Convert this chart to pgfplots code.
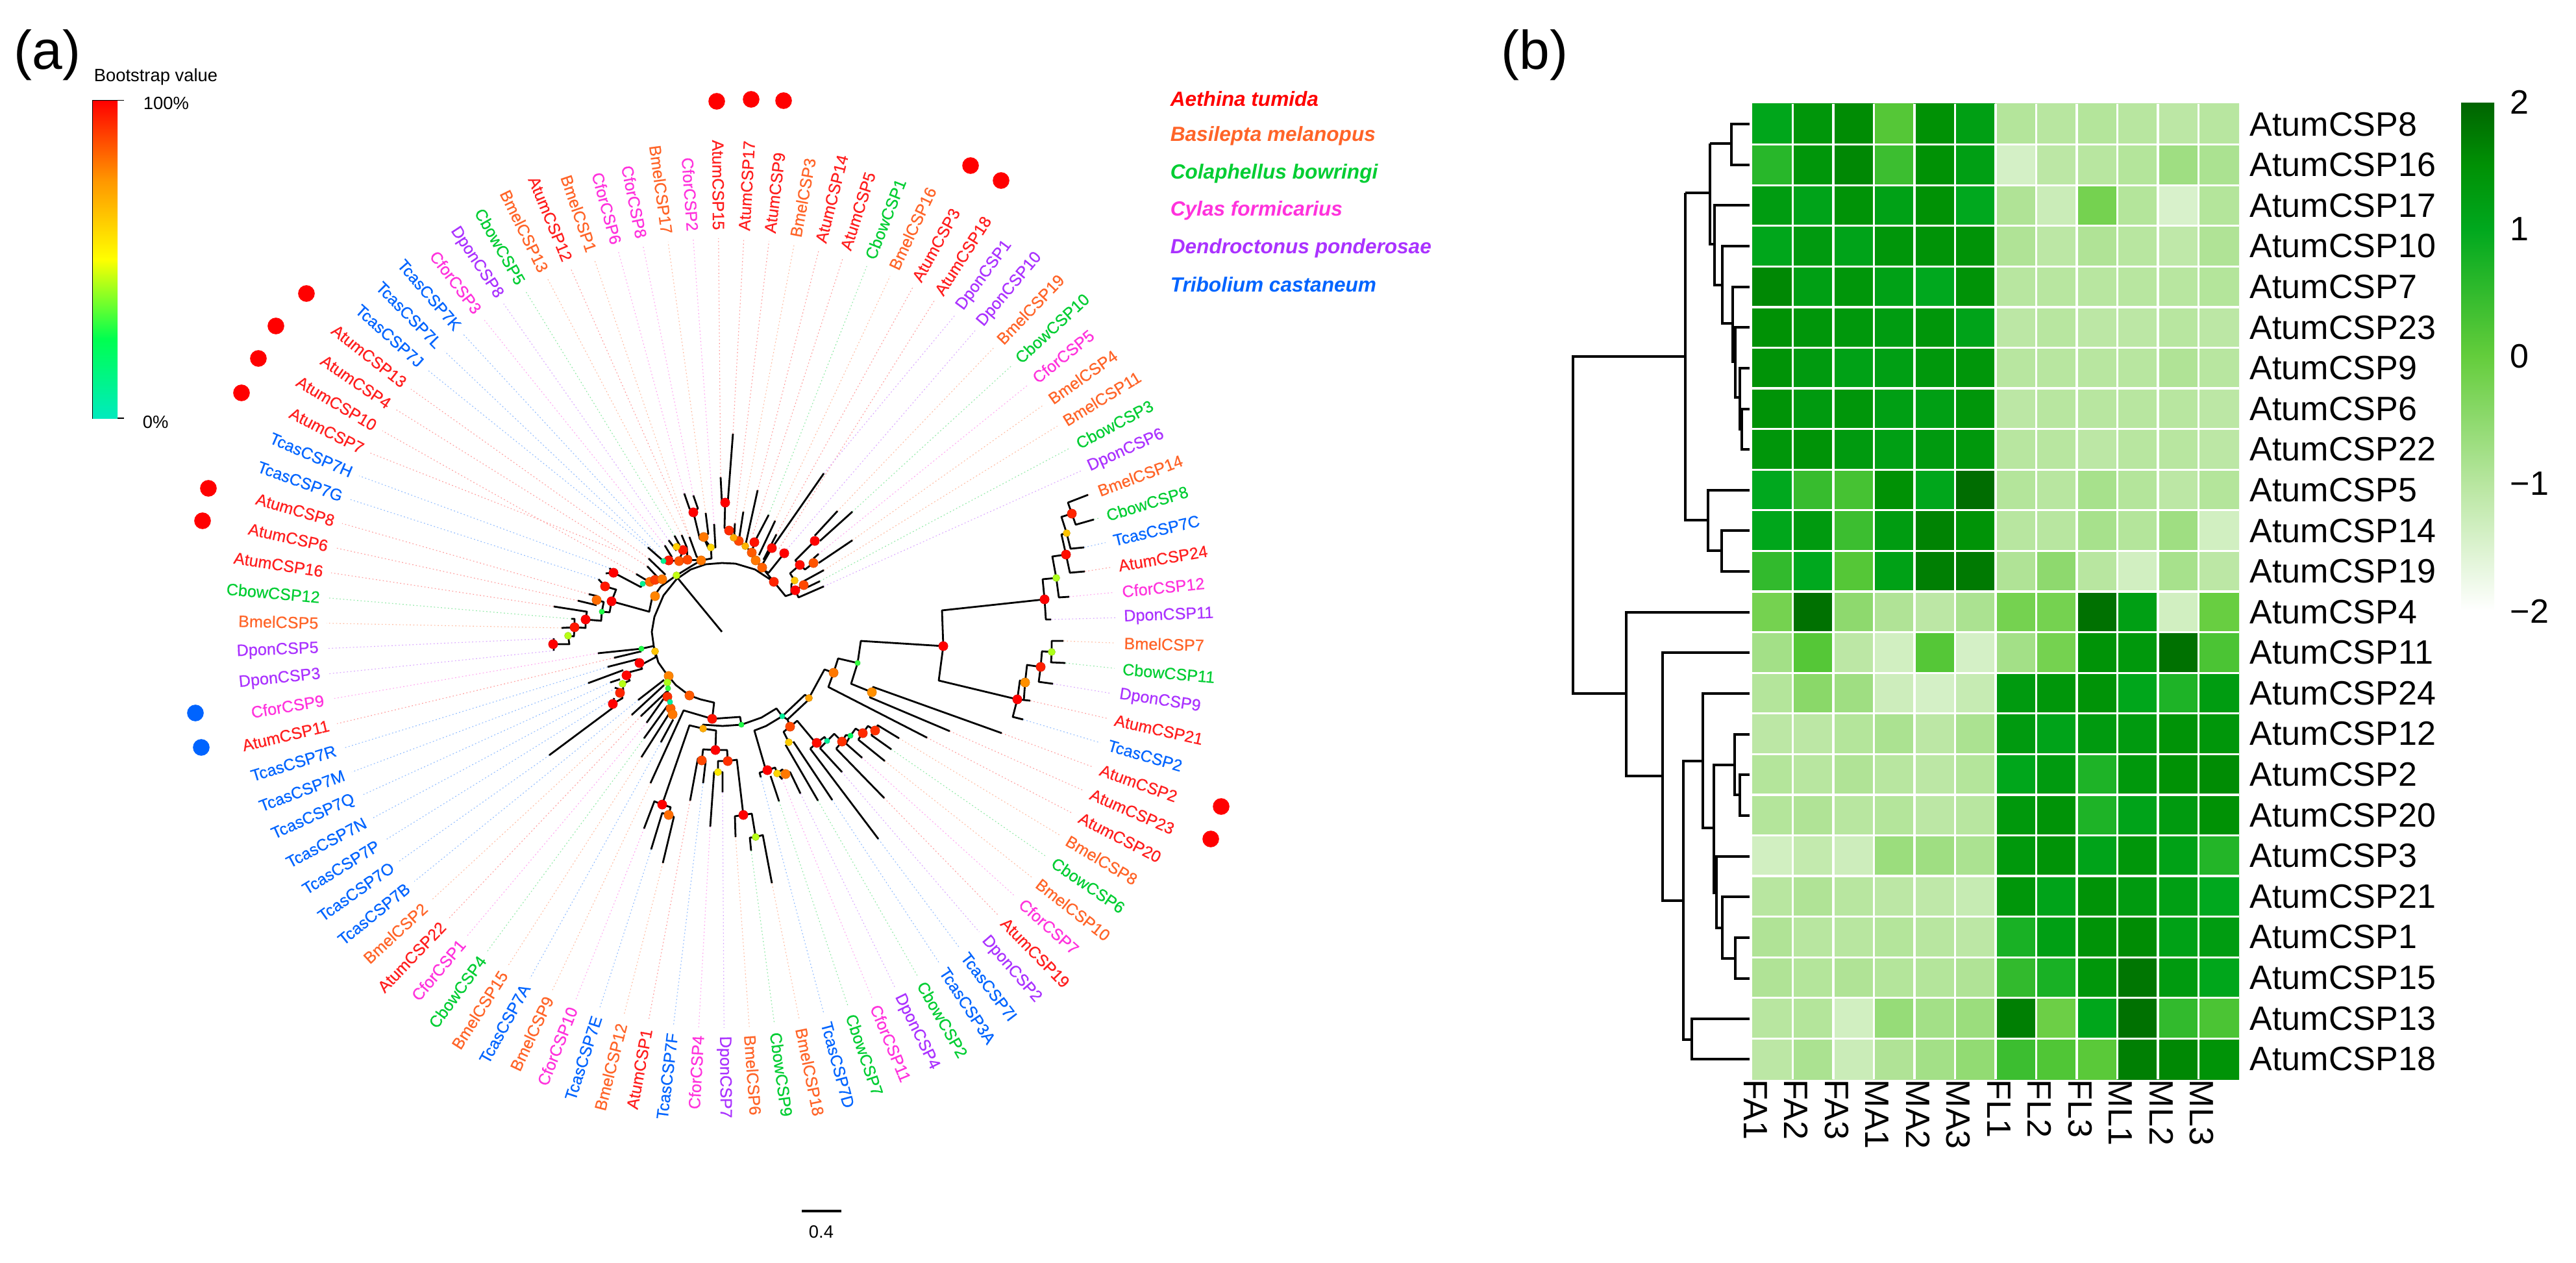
\documentclass[border=0pt]{standalone}
\usepackage{fontspec}
\setmainfont{Liberation Sans}
\newfontfamily\leaffam[FakeBold=0.5]{Liberation Sans}
\usepackage{pgfplots}
\pgfplotsset{compat=1.18}

% species colours
\definecolor{ca}{RGB}{255,30,30}
\definecolor{cb}{RGB}{255,100,40}
\definecolor{cc}{RGB}{0,205,50}
\definecolor{cf}{RGB}{255,50,220}
\definecolor{cd}{RGB}{170,50,255}
\definecolor{ct}{RGB}{0,100,255}
\newcommand\leaffont{\leaffam\fontsize{6.3}{7}\selectfont}

\pgfplotsset{
  colormap={boot}{rgb255(0)=(0,235,190); rgb255(1)=(0,255,80); rgb255(2)=(255,255,0); rgb255(3)=(255,150,0); rgb255(4)=(255,0,0);},
  colormap={expr}{rgb255(0)=(255,255,255); rgb255(2)=(184,230,160); rgb255(4)=(100,205,60); rgb255(6)=(0,168,30); rgb255(7)=(0,145,5); rgb255(8)=(0,100,0);},
}

\begin{document}
\begin{tikzpicture}
\useasboundingbox (0,0) rectangle (992pt,486.25pt);

% panel (a), axis in picture pixels
\begin{axis}[
  at={(0,0)}, anchor=south west, scale only axis, width=992pt, height=486.25pt,
  xmin=0, xmax=3968, ymin=0, ymax=1945, y dir=reverse, hide axis, clip=false,
  unbounded coords=jump, colormap name=boot, point meta min=0, point meta max=100,
  colorbar,
  colorbar style={at={(0.03604,0.9206)}, anchor=north west, scale only axis,
    width=9.5pt, height=122.4pt, ytick=\empty, xtick=\empty, axis line style={draw=none}},
]
% guide lines and leaf names, clockwise from the top: name/colour/tip x/tip y
\foreach \n/\c/\tx/\ty [count=\i from 0] in {
AtumCSP15/ca/1110/735, AtumCSP17/ca/1129/668, AtumCSP9/ca/1132/806, BmelCSP3/cb/1145/788, AtumCSP14/ca/1167/755,
AtumCSP5/ca/1160/822, CbowCSP1/cc/1184/793, BmelCSP16/cb/1194/802, AtumCSP3/ca/1196/823, AtumCSP18/ca/1200/845,
DponCSP1/cd/1269/729, DponCSP10/cd/1212/846, BmelCSP19/cb/1290/787, CbowCSP10/cc/1313/788, CforCSP5/cf/1261/853,
BmelCSP4/cb/1313/832, BmelCSP11/cb/1269/878, CbowCSP3/cc/1263/895, DponCSP6/cd/1269/903, BmelCSP14/cb/1676/762,
CbowCSP8/cc/1685/800, TcasCSP7C/ct/1670/843, AtumCSP24/ca/1671/880, CforCSP12/cf/1647/919, DponCSP11/cd/1619/954,
BmelCSP7/cb/1638/987, CbowCSP11/cc/1641/1021, DponCSP9/cd/1622/1053, AtumCSP21/ca/1587/1079, TcasCSP2/ct/1576/1108,
AtumCSP2/ca/1543/1129, AtumCSP23/ca/1463/1126, AtumCSP20/ca/1428/1136, BmelCSP8/cb/1385/1137, CbowCSP6/cc/1373/1154,
BmelCSP10/cb/1363/1172, CforCSP7/cf/1328/1167, AtumCSP19/ca/1362/1229, DponCSP2/cd/1297/1189, TcasCSP7I/ct/1353/1292,
TcasCSP3A/ct/1282/1232, CbowCSP2/cc/1260/1233, DponCSP4/cd/1233/1222, CforCSP11/cf/1205/1200, CbowCSP7/cc/1200/1234,
TcasCSP7D/ct/1172/1197, BmelCSP18/cb/1189/1360, CbowCSP9/cc/1157/1310, BmelCSP6/cb/1133/1289, DponCSP7/cd/1113/1220,
CforCSP4/cf/1094/1273, TcasCSP7F/ct/1083/1206, AtumCSP1/ca/1063/1233, BmelCSP12/cb/1021/1329, TcasCSP7E/ct/1003/1308,
CforCSP10/cf/992/1276, BmelCSP9/cb/1002/1206, TcasCSP7A/ct/1018/1143, BmelCSP15/cb/988/1166, CbowCSP4/cc/992/1137,
CforCSP1/cf/996/1113, AtumCSP22/ca/987/1103, BmelCSP2/cb/973/1101, TcasCSP7B/ct/983/1078, TcasCSP7O/ct/846/1163,
TcasCSP7P/ct/946/1075, TcasCSP7N/ct/948/1060, TcasCSP7Q/ct/940/1051, TcasCSP7M/ct/906/1052, TcasCSP7R/ct/936/1027,
AtumCSP11/ca/946/1013, CforCSP9/cf/921/1006, DponCSP3/cd/853/1002, DponCSP5/cd/853/983, BmelCSP5/cb/865/967,
CbowCSP12/cc/880/953, AtumCSP16/ca/853/934, AtumCSP6/ca/890/925, AtumCSP8/ca/907/915, TcasCSP7G/ct/922/892,
TcasCSP7H/ct/939/875, AtumCSP7/ca/954/849, AtumCSP10/ca/980/884, AtumCSP4/ca/997/872, AtumCSP13/ca/999/860,
TcasCSP7J/ct/998/843, TcasCSP7L/ct/1010/850, TcasCSP7K/ct/1016/842, CforCSP3/cf/1024/840, DponCSP8/cd/1030/832,
CbowCSP5/cc/1039/825, BmelCSP13/cb/1050/824, AtumCSP12/ca/1062/827, BmelCSP1/cb/1066/838, CforCSP6/cf/1054/760,
CforCSP8/cf/1068/763, BmelCSP17/cb/1087/790, CforCSP2/cf/1100/807} {
  \pgfmathsetmacro\th{mod(359.6+3.6735*\i,360)}
  \pgfmathsetmacro\lx{1111+620*sin(\th)}
  \pgfmathsetmacro\ly{975-620*cos(\th)}
  \pgfmathsetmacro\gx{1111+608*sin(\th)}
  \pgfmathsetmacro\gy{975-608*cos(\th)}
  \pgfmathparse{\th<180?90-\th:270-\th}\let\rt\pgfmathresult
  \pgfmathparse{\th<180?"west":"east"}\let\an\pgfmathresult
  \edef\tmp{%
    \noexpand\addplot[\c!42, line width=.3pt, dash pattern=on .45pt off .9pt] coordinates {(\tx,\ty)(\gx,\gy)};
    \noexpand\node[text=\c, font=\noexpand\leaffont, rotate=\rt, anchor=\an, inner sep=0pt] at (axis cs:\lx,\ly) {\n};
  }\tmp
}

% tree branches
\addplot[black, line width=.7pt, line join=round] coordinates {
(1192,896)(1163,877)(1133,868)(1112,867)(1087,869)(1064,877)(1042,892)(1022,917)(1008,950)(1004,973)(1007,995)(1014,1020)(1026,1037)(1041,1055)(1062,1071)(1079,1077)(1100,1082)(1097,1107)(nan,nan)
(1112,973)(1042,888)(nan,nan)
(942,926)(1000,942)(1004,923)(1018,903)(1042,886)(1068,870)(1080,863)(nan,nan)
(942,926)(949,908)(932,903)(922,892)(nan,nan)
(942,926)(939,943)(927,942)(930,927)(919,924)(nan,nan)
(919,932)(890,925)(nan,nan)(907,915)(920,918)(nan,nan)
(927,942)(926,956)(902,954)(904,942)(853,934)(nan,nan)
(902,954)(902,967)(885,966)(885,953)(880,953)(nan,nan)
(885,966)(865,967)(nan,nan)
(885,966)(884,980)(875,979)(877,992)(852,992)(nan,nan)
(853,983)(853,1002)(nan,nan)
(1020,892)(1009,893)(1001,896)(990,899)(987,904)(953,886)(945,882)(nan,nan)
(939,875)(945,882)(933,883)(nan,nan)
(980,884)(995,893)(nan,nan)(997,872)(1014,890)(nan,nan)(999,860)(1025,885)(nan,nan)(998,843)(1022,864)(nan,nan)
(1080,863)(1059,862)(1046,864)(1030,863)(1022,864)(nan,nan)
(1024,840)(1035,858)(nan,nan)(1030,832)(1042,848)(nan,nan)(1039,825)(1047,840)(nan,nan)
(1050,824)(1058,843)(1059,862)(nan,nan)(1062,827)(1073,857)(1080,863)(nan,nan)
(1042,842)(1052,847)(1046,864)(nan,nan)
(1054,760)(1062,783)(1068,789)(1075,783)(1068,763)(nan,nan)
(1068,789)(1070,797)(1078,830)(1084,827)(nan,nan)
(1087,790)(1091,822)(1084,827)(nan,nan)
(1091,844)(1085,830)(1095,843)(nan,nan)
(1100,807)(1102,843)(1095,843)(1096,860)(1080,863)(nan,nan)
(1110,735)(1112,774)(1117,774)(nan,nan)
(1129,668)(1121,774)(1117,774)(1116,813)(1123,817)(1130,828)(1138,833)(1148,841)(1158,851)(1164,863)(1174,874)(1192,896)(nan,nan)
(1132,806)(1131,825)(nan,nan)(1145,788)(1138,833)(nan,nan)(1167,755)(1148,841)(nan,nan)
(1184,793)(1162,835)(1158,851)(nan,nan)(1194,802)(1169,855)(nan,nan)(1196,823)(1176,862)(nan,nan)
(1269,729)(1189,844)(1175,868)(nan,nan)(1208,852)(1184,882)(1176,878)(nan,nan)
(1192,896)(1210,918)(1219,915)(1219,900)(1224,894)(1217,883)(1232,870)(nan,nan)
(1219,915)(1225,909)(1230,920)(1269,903)(nan,nan)
(1225,909)(1238,901)(nan,nan)(1238,895)(1269,878)(nan,nan)(1238,907)(1263,895)(nan,nan)
(1232,870)(1225,863)(1255,833)(nan,nan)(1232,870)(1240,877)(1253,867)(nan,nan)
(1255,825)(1290,787)(nan,nan)(1263,833)(1313,788)(nan,nan)
(1261,853)(1253,860)(nan,nan)(1261,867)(1313,832)(nan,nan)
(1097,1107)(1053,1094)(1002,1206)(nan,nan)
(1097,1107)(1140,1104)(1142,1116)(1173,1105)(1196,1091)(1205,1103)(1240,1070)(1246,1075)(1270,1031)(1284,1036)(1291,1014)(1321,1021)(1326,987)(1453,995)(1451,940)(1609,923)(nan,nan)
(1205,1103)(1213,1108)(1243,1080)(1246,1075)(nan,nan)
(1609,923)(1606,892)(1627,890)(nan,nan)(1609,923)(1611,954)(1619,954)(nan,nan)
(1627,890)(1621,857)(1642,854)(nan,nan)(1627,890)(1631,920)(1647,919)(nan,nan)
(1642,854)(1635,823)(1643,821)(nan,nan)(1642,854)(1648,882)(1671,880)(nan,nan)
(1643,821)(1635,796)(1651,791)(nan,nan)(1643,821)(1649,845)(1670,843)(nan,nan)
(1651,791)(1645,774)(1676,762)(nan,nan)(1651,791)(1657,808)(1685,800)(nan,nan)
(1453,995)(1446,1048)(1567,1077)(nan,nan)
(1567,1077)(1571,1048)(1579,1051)(nan,nan)(1567,1077)(1587,1079)(nan,nan)
(1567,1077)(1560,1104)(1576,1108)(nan,nan)(1579,1051)(1577,1079)(nan,nan)
(1579,1051)(1582,1024)(1603,1027)(nan,nan)
(1603,1027)(1605,1003)(1620,1004)(nan,nan)(1603,1027)(1600,1050)(1622,1053)(nan,nan)
(1620,1004)(1620,987)(1638,987)(nan,nan)(1620,1004)(1619,1020)(1641,1021)(nan,nan)
(1321,1021)(1311,1053)(1343,1066)(nan,nan)
(1343,1066)(1345,1058)(1543,1129)(nan,nan)(1343,1066)(1340,1074)(1463,1126)(nan,nan)
(1284,1036)(1276,1058)(1428,1136)(nan,nan)
(1205,1103)(1180,1118)(1162,1125)(1178,1180)(1182,1186)(nan,nan)
(1182,1186)(1194,1182)(1197,1191)(nan,nan)(1182,1186)(1170,1190)(1172,1197)(nan,nan)
(1187,1195)(1200,1234)(nan,nan)
(1197,1191)(1205,1185)(1210,1192)(nan,nan)(1197,1191)(1205,1200)(nan,nan)
(1210,1192)(1217,1189)(1233,1222)(nan,nan)
(1213,1108)(1217,1119)(1207,1127)(1215,1143)(nan,nan)
(1210,1147)(1260,1233)(nan,nan)(1222,1142)(1282,1232)(nan,nan)
(1217,1119)(1228,1110)(1253,1140)(1258,1144)(nan,nan)
(1248,1153)(1353,1292)(nan,nan)(1258,1144)(1248,1153)(nan,nan)
(1258,1144)(1270,1135)(1274,1141)(nan,nan)
(1263,1152)(1297,1189)(nan,nan)(1274,1141)(1263,1152)(nan,nan)
(1274,1141)(1285,1130)(1297,1142)(nan,nan)
(1288,1153)(1362,1229)(nan,nan)(1297,1142)(1288,1153)(nan,nan)
(1297,1142)(1303,1132)(1310,1133)(nan,nan)
(1303,1145)(1328,1167)(nan,nan)(1310,1133)(1303,1145)(nan,nan)
(1310,1133)(1318,1122)(1329,1129)(nan,nan)
(1322,1139)(1363,1172)(nan,nan)(1329,1129)(1322,1139)(nan,nan)
(1329,1129)(1337,1118)(1348,1125)(nan,nan)
(1342,1132)(1373,1154)(nan,nan)(1348,1125)(1342,1132)(nan,nan)
(1348,1125)(1352,1117)(1385,1137)(nan,nan)
(1142,1116)(1113,1118)(1083,1116)(1083,1122)(1062,1117)(1023,1230)(1020,1239)(nan,nan)
(1083,1122)(1103,1125)(1102,1155)(nan,nan)
(1020,1239)(1008,1234)(992,1276)(nan,nan)
(1020,1239)(1033,1243)(1030,1255)(nan,nan)
(1030,1255)(1020,1252)(1003,1308)(nan,nan)(1030,1255)(1038,1258)(1021,1329)(nan,nan)
(1102,1155)(1083,1154)(1081,1171)(nan,nan)(1102,1155)(1120,1155)(1121,1172)(nan,nan)
(1081,1171)(1075,1168)(1063,1233)(nan,nan)(1081,1171)(1087,1172)(1083,1206)(nan,nan)
(1121,1172)(1106,1172)(1106,1189)(nan,nan)(1121,1172)(1135,1170)(1145,1255)(nan,nan)
(1106,1189)(1100,1189)(1094,1273)(nan,nan)(1106,1189)(1113,1189)(1113,1220)(nan,nan)
(1145,1255)(1132,1257)(1133,1289)(nan,nan)(1145,1255)(1158,1253)(1164,1289)(nan,nan)
(1164,1289)(1155,1290)(1157,1310)(nan,nan)(1164,1289)(1175,1286)(1189,1360)(nan,nan)
(1030,1041)(1028,1051)(1029,1060)(1028,1073)(1032,1081)(1033,1091)(1036,1100)(nan,nan)
(983,1078)(1023,1047)(nan,nan)(973,1101)(1023,1055)(nan,nan)(987,1103)(1027,1065)(nan,nan)
(996,1113)(1023,1075)(nan,nan)(992,1137)(1028,1087)(nan,nan)(988,1166)(1032,1097)(nan,nan)(1018,1143)(1037,1108)(nan,nan)
(1006,995)(988,999)(921,1006)(nan,nan)(988,1003)(946,1013)(nan,nan)
(1007,995)(1009,1003)(1010,1012)(991,1022)(985,1021)(nan,nan)
(983,1015)(936,1027)(nan,nan)
(985,1021)(989,1030)(970,1035)(965,1040)(nan,nan)
(960,1032)(906,1052)(nan,nan)
(965,1040)(970,1048)(959,1053)(nan,nan)(955,1046)(940,1051)(nan,nan)
(959,1053)(960,1062)(955,1067)(nan,nan)(947,1059)(959,1063)(nan,nan)
(955,1067)(959,1075)(944,1084)(nan,nan)
(944,1084)(946,1075)(nan,nan)(944,1090)(846,1163)(nan,nan)
};

% bootstrap support at the nodes, by marker size
\addplot[scatter, only marks, point meta=explicit, mark=*, mark size=1.8pt, mark options={draw=black!60, line width=.1pt}] coordinates {
(1117,774)[100](1068,789)[100](942,926)[100](945,882)[100](902,954)[100](852,992)[100](1052,847)[96](1030,863)[96](1162,835)[97](1189,844)[98](1208,852)[100](1255,833)[100](1232,870)[98](1225,909)[100](1192,896)[94](932,903)[96](885,966)[96](985,1021)[100](965,1040)[99](955,1067)[94](944,1084)[100](1097,1107)[97]
(1609,923)[100](1453,995)[100](1642,854)[98](1651,791)[94](1567,1077)[100](1603,1027)[95](1182,1186)[100](1102,1155)[100](1121,1172)[92](1081,1171)[88](1145,1255)[100](1020,1239)[100](1030,1255)[82](1258,1144)[98](1297,1142)[92](1329,1129)[93](1348,1125)[92](1217,1119)[88](1028,1073)[92](1123,817)[93]
(1001,896)[82](1009,893)[90](1020,892)[80](1009,918)[78](919,924)[82](1046,864)[86](1059,862)[88](1080,863)[80](1084,827)[80](1138,833)[88](1158,851)[85](1164,863)[80](1174,874)[84](1253,867)[86](1238,901)[88](1062,1071)[85](1033,1091)[84](1036,1100)[80](1030,1041)[78](1284,1036)[80](1343,1066)[76](1579,1051)[76](1210,1192)[80]
};
\addplot[scatter, only marks, point meta=explicit, mark=*, mark size=1.4pt, mark options={draw=black!60, line width=.1pt}] coordinates {
(1130,828)[70](1148,841)[68](1042,842)[62](1095,843)[60](1224,894)[64](1009,1003)[64](1083,1122)[70](1246,1075)[72](1215,1143)[62](1197,1191)[60](1643,821)[64](1106,1189)[55]
(1042,886)[44](875,979)[43](959,1053)[43](1028,1051)[42](1627,890)[42](1620,1004)[42](1164,1289)[43]
};
\addplot[scatter, only marks, point meta=explicit, mark=*, mark size=1.05pt, mark options={draw=black!60, line width=.1pt}] coordinates {
(927,942)[28](988,999)[28](1029,1060)[30](1142,1116)[28](1321,1021)[30](1310,1133)[22](990,899)[10](1022,864)[10](1032,1081)[8](1205,1103)[8](1274,1141)[8]
};

% outer dots
\addplot[only marks, mark=*, mark size=3pt, color=red] coordinates {
(1104,156)(1157,153)(1207,155)(1495,255)(1542,278)(472,452)(425,502)(398,552)(372,605)(321,752)(312,802)(1881,1242)(1865,1292)};
\addplot[only marks, mark=*, mark size=3pt, color=ct] coordinates {(301,1098)(310,1151)};

% frame of the bootstrap scale, scale bar
\addplot[black, line width=.3pt] coordinates {(191,154.5)(143,154.5)(143,644)(191,644)};
\addplot[black, line width=.9pt] coordinates {(1235,1865)(1296,1865)};

\node[font=\fontsize{6.85}{8}\selectfont, anchor=west, inner sep=0pt] at (axis cs:144,118) {Bootstrap value};
\node[font=\fontsize{6.85}{8}\selectfont, anchor=west, inner sep=0pt] at (axis cs:220,159) {100\%};
\node[font=\fontsize{6.85}{8}\selectfont, anchor=west, inner sep=0pt] at (axis cs:219,650) {0\%};
\node[font=\fontsize{6.85}{8}\selectfont, inner sep=0pt] at (axis cs:1265,1897) {0.4};
\node[font=\fontsize{21}{24}\selectfont, inner sep=0pt] at (axis cs:73,85) {(a)};
\node[font=\fontsize{21}{24}\selectfont, inner sep=0pt] at (axis cs:2364,85) {(b)};

% species legend
\foreach \s/\c/\y in {Aethina tumida/red/152, Basilepta melanopus/cb/209, Colaphellus bowringi/cc/267, Cylas formicarius/cf/324, Dendroctonus ponderosae/cd/382, Tribolium castaneum/ct/438} {
  \edef\tmp{\noexpand\node[text=\c, font=\noexpand\fontsize{7.9}{9}\noexpand\selectfont\noexpand\bfseries\noexpand\itshape, anchor=west, inner sep=0pt] at (axis cs:1802,\y) {\s};}\tmp
}

% dendrogram of panel (b)
\addplot[black, line width=.8pt] coordinates {
(2695,191)(2667,191)(2667,254)(2695,254)(nan,nan)
(2667,221)(2634,221)(nan,nan)(2634,221)(2634,376)(2641,376)(nan,nan)
(2695,316)(2641,316)(2641,439)(2653,439)(nan,nan)
(2695,379)(2653,379)(2653,498)(2669,498)(nan,nan)
(2695,442)(2669,442)(2669,557)(2673,557)(nan,nan)
(2695,504)(2673,504)(2673,612)(2680,612)(nan,nan)
(2695,567)(2680,567)(2680,661)(2683,661)(nan,nan)
(2695,630)(2683,630)(2683,692)(2695,692)(nan,nan)
(2634,297)(2596,297)(nan,nan)(2596,297)(2596,801)(2631,801)(nan,nan)
(2695,755)(2631,755)(2631,848)(2652,848)(nan,nan)
(2695,817)(2652,817)(2652,880)(2695,880)(nan,nan)
(2596,549)(2423,549)(2423,1068)(2505,1068)(nan,nan)
(2695,943)(2505,943)(2505,1195)(2561,1195)(nan,nan)
(2695,1005)(2561,1005)(2561,1387)(2593,1387)(nan,nan)
(2623,1172)(2593,1172)(2593,1601)(2606,1601)(nan,nan)
(2695,1068)(2623,1068)(2623,1275)(2640,1275)(nan,nan)
(2672,1178)(2640,1178)(2640,1375)(2644,1375)(nan,nan)
(2695,1131)(2672,1131)(2672,1224)(2680,1224)(nan,nan)
(2695,1193)(2680,1193)(2680,1256)(2695,1256)(nan,nan)
(2695,1319)(2644,1319)(2644,1429)(2653,1429)(nan,nan)
(2695,1381)(2653,1381)(2653,1476)(2673,1476)(nan,nan)
(2695,1444)(2673,1444)(2673,1507)(2695,1507)(nan,nan)
(2695,1569)(2606,1569)(2606,1631)(2695,1631)(nan,nan)
};
\end{axis}

% panel (b), heat map
\begin{axis}[
  at={(674.75pt,70.75pt)}, anchor=south west, scale only axis, width=187.5pt, height=375.5pt,
  xmin=-0.5, xmax=11.5, ymin=-0.5, ymax=23.5, y dir=reverse, axis on top,
  colormap name=expr, point meta min=-2, point meta max=2,
  axis line style={draw=none}, major tick length=0, minor tick length=0,
  xtick={0,...,11}, ytick={0,...,23}, yticklabel pos=right,
  minor xtick={0.5,...,10.5}, minor ytick={0.5,...,22.5},
  xminorgrids, yminorgrids, minor grid style={white, line width=.8pt},
  xticklabels={FA1,FA2,FA3,MA1,MA2,MA3,FL1,FL2,FL3,ML1,ML2,ML3},
  yticklabels={AtumCSP8,AtumCSP16,AtumCSP17,AtumCSP10,AtumCSP7,AtumCSP23,AtumCSP9,AtumCSP6,AtumCSP22,AtumCSP5,AtumCSP14,AtumCSP19,AtumCSP4,AtumCSP11,AtumCSP24,AtumCSP12,AtumCSP2,AtumCSP20,AtumCSP3,AtumCSP21,AtumCSP1,AtumCSP15,AtumCSP13,AtumCSP18},
  x tick label style={font=\fontsize{13}{14}\selectfont, rotate=-90, anchor=west, inner sep=0pt, yshift=-6.5pt},
  y tick label style={font=\fontsize{13}{14}\selectfont, anchor=west, inner sep=0pt, xshift=4pt},
  colorbar,
  colorbar style={at={(1.456,1.002)}, anchor=north west, scale only axis, width=12.75pt, height=196pt,
    ytick={-2,-1,0,1,2}, yticklabels={−2,−1,0,1,2}, axis line style={draw=none}, major tick length=0,
    y tick label style={font=\fontsize{13}{14}\selectfont, anchor=west, inner sep=0pt, xshift=6pt}},
]
\addplot[matrix plot*, mesh/cols=12, point meta=explicit] table[row sep=\\, header=false,
    x expr={\coordindex-12*floor((\coordindex+0.5)/12)}, y expr={floor((\coordindex+0.5)/12)}, meta index=0] {
 1.05\\1.40\\1.55\\0.15\\1.50\\1.20\\-0.95\\-1.00\\-0.95\\-1.00\\-1.05\\-1.00\\
 0.60\\1.40\\1.60\\0.40\\1.50\\1.20\\-1.40\\-1.05\\-1.00\\-0.95\\-0.70\\-0.85\\
 1.25\\1.10\\1.45\\1.15\\1.50\\1.00\\-0.90\\-1.25\\-0.20\\-0.95\\-1.45\\-0.95\\
 1.05\\1.30\\1.10\\1.40\\1.45\\1.45\\-0.90\\-1.05\\-0.90\\-1.00\\-1.10\\-0.90\\
 1.60\\1.20\\1.40\\1.15\\1.00\\1.45\\-1.00\\-1.00\\-1.00\\-1.00\\-1.00\\-0.95\\
 1.50\\1.40\\1.35\\1.25\\1.40\\1.10\\-1.05\\-1.00\\-1.05\\-1.05\\-1.00\\-1.05\\
 1.45\\1.30\\1.15\\1.20\\1.35\\1.40\\-1.00\\-1.00\\-1.00\\-1.00\\-0.90\\-1.00\\
 1.45\\1.30\\1.40\\1.20\\1.20\\1.40\\-1.05\\-1.00\\-1.00\\-1.00\\-1.00\\-1.05\\
 1.40\\1.45\\1.30\\1.20\\1.30\\1.35\\-1.00\\-1.00\\-1.05\\-1.00\\-1.00\\-1.05\\
 1.00\\0.45\\0.30\\1.50\\1.05\\1.90\\-0.95\\-1.00\\-0.80\\-0.95\\-1.05\\-0.95\\
 1.05\\1.30\\0.40\\1.25\\1.65\\1.45\\-1.00\\-1.00\\-0.80\\-0.95\\-0.70\\-1.35\\
 0.50\\1.00\\0.15\\1.15\\1.70\\1.75\\-0.90\\-0.50\\-1.00\\-1.35\\-0.80\\-1.05\\
 -0.20\\1.85\\-0.50\\-0.90\\-1.05\\-0.85\\-0.20\\-0.20\\1.85\\1.20\\-1.35\\-0.05\\
 -0.75\\0.15\\-1.05\\-1.35\\0.15\\-1.40\\-0.75\\-0.20\\1.45\\1.35\\1.85\\0.25\\
 -0.95\\-0.45\\-0.70\\-1.30\\-1.40\\-1.20\\1.30\\1.40\\1.45\\1.05\\0.70\\1.25\\
 -1.05\\-1.05\\-0.95\\-0.85\\-1.05\\-0.85\\1.30\\1.10\\1.30\\1.30\\1.45\\1.40\\
 -0.95\\-1.00\\-0.90\\-1.00\\-1.05\\-0.95\\1.05\\1.30\\0.70\\1.35\\1.50\\1.55\\
 -0.95\\-0.90\\-1.00\\-0.95\\-1.05\\-1.00\\1.35\\1.45\\0.70\\1.10\\1.30\\1.50\\
 -1.35\\-1.15\\-1.30\\-0.65\\-0.70\\-0.85\\1.35\\1.45\\1.10\\1.40\\1.15\\0.65\\
 -1.00\\-0.90\\-1.00\\-1.05\\-1.10\\-1.20\\1.40\\1.10\\1.45\\1.30\\1.20\\1.00\\
 -0.90\\-1.00\\-1.00\\-0.95\\-1.00\\-1.05\\0.75\\1.20\\1.45\\1.55\\1.15\\1.25\\
 -0.90\\-0.95\\-0.90\\-0.95\\-0.95\\-0.90\\0.50\\0.75\\1.40\\1.80\\1.30\\1.05\\
 -1.00\\-0.95\\-1.35\\-0.60\\-0.75\\-0.65\\1.70\\-0.10\\1.05\\1.85\\0.50\\0.25\\
 -1.05\\-0.85\\-1.25\\-0.90\\-0.75\\-0.55\\0.40\\0.20\\0.10\\1.70\\1.60\\1.45\\
};
\end{axis}
\end{tikzpicture}
\end{document}
